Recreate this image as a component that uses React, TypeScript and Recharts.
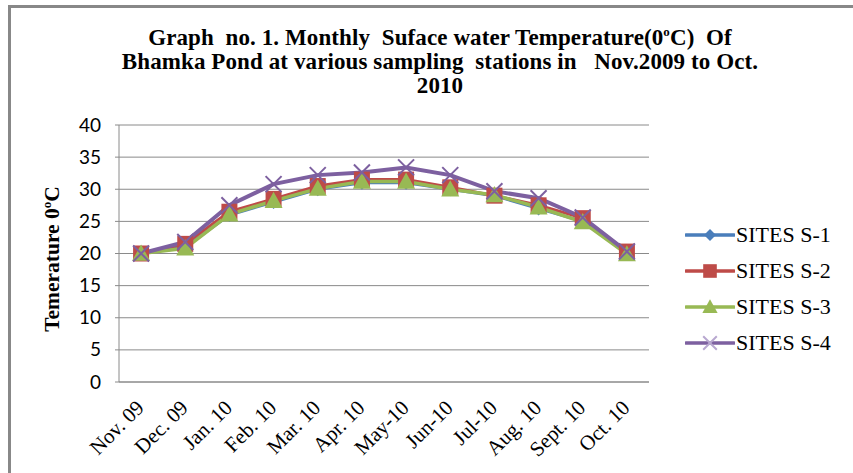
import React from "react";
import { LineChart, Line, XAxis, YAxis, CartesianGrid } from "recharts";

const months = ["Nov. 09", "Dec. 09", "Jan. 10", "Feb. 10", "Mar. 10", "Apr. 10", "May-10", "Jun-10", "Jul-10", "Aug. 10", "Sept. 10", "Oct. 10"];
const s1 = [20, 21, 26, 28, 30, 31, 31, 30, 29, 27, 25, 20];
const s2 = [20, 21.5, 26.5, 28.5, 30.5, 31.5, 31.5, 30.3, 29, 27.5, 25.5, 20.3];
const s3 = [20, 20.8, 26.1, 28.2, 30.1, 31.2, 31.2, 30, 29.1, 27.2, 24.9, 19.9];
const s4 = [20, 21.8, 27.5, 30.8, 32.2, 32.6, 33.4, 32.2, 29.7, 28.6, 25.6, 20.3];
const yTicks = [0, 5, 10, 15, 20, 25, 30, 35, 40];

const seriesNames = ["SITES S-1", "SITES S-2", "SITES S-3", "SITES S-4"];
const colors = ["#4A7EBB", "#BE4B48", "#98B954", "#7D60A0"];

const data = months.map((m, i) => ({ m, s1: s1[i], s2: s2[i], s3: s3[i], s4: s4[i] }));

function Marker({ kind, cx, cy, color, small }: { kind: number; cx: number; cy: number; color: string; small?: boolean }) {
  if (cx == null || cy == null) return null;
  const k = small ? 0.85 : 1;
  if (kind === 0) {
    const r = 7 * k;
    return <path d={`M${cx},${cy - r}L${cx + r},${cy}L${cx},${cy + r}L${cx - r},${cy}Z`} fill={color} />;
  }
  if (kind === 1) {
    const r = 8 * k;
    return <rect x={cx - r} y={cy - r} width={2 * r} height={2 * r} fill={color} />;
  }
  if (kind === 2) {
    const r = 9 * k;
    return <path d={`M${cx},${cy - r}L${cx + r},${cy + r * 0.8}L${cx - r},${cy + r * 0.8}Z`} fill={color} />;
  }
  const r = 8 * k;
  return (
    <path d={`M${cx - r},${cy - r}L${cx + r},${cy + r}M${cx + r},${cy - r}L${cx - r},${cy + r}`} stroke={color} strokeWidth={2} fill="none" />
  );
}

const makeDot = (kind: number) => (props: any) => (
  <Marker key={`${kind}-${props.index}`} kind={kind} cx={props.cx} cy={props.cy} color={colors[kind]} />
);

function XTick(props: any) {
  const { x, y, payload } = props;
  const tx = x + 4;
  const ty = y + 19;
  return (
    <text x={tx} y={ty} textAnchor="end" fontFamily="'Liberation Serif', serif" fontSize={21} fill="#000" transform={`rotate(-45, ${tx}, ${ty})`}>
      {payload.value}
    </text>
  );
}

function YTick(props: any) {
  const { y, payload } = props;
  return (
    <text x={101} y={y + 6.5} textAnchor="end" fontFamily="Lato, sans-serif" fontSize={19} fill="#000">
      {payload.value}
    </text>
  );
}

export default function App() {
  return (
    <div style={{ position: "absolute", left: 0, top: 0, width: 853, height: 473, background: "#fff", overflow: "hidden" }}>
      <div style={{ position: "absolute", left: 8, top: 5, width: 900, height: 500, borderLeft: "3px solid #888", borderTop: "3px solid #888" }} />
      <div
        style={{
          position: "absolute",
          left: 0,
          width: 880,
          top: 26,
          textAlign: "center",
          fontFamily: "'Liberation Serif', serif",
          fontWeight: "bold",
          fontSize: 23,
          lineHeight: "24px",
          letterSpacing: 0.1,
          color: "#000",
        }}
      >
        <div>Graph&nbsp; no. 1. Monthly&nbsp; Suface water Temperature(0<sup style={{ fontSize: 13, lineHeight: 0 }}>o</sup>C)&nbsp; Of</div>
        <div>Bhamka Pond at various sampling&nbsp; stations in&nbsp;&nbsp; Nov.2009 to Oct.</div>
        <div>2010</div>
      </div>
      <svg width={853} height={473} style={{ position: "absolute", left: 0, top: 0 }}>
        <text
          transform="translate(59, 259) rotate(-90)"
          textAnchor="middle"
          fontFamily="'Liberation Serif', serif"
          fontWeight="bold"
          fontSize={21.5}
          fill="#000"
        >
          Temerature 0<tspan fontSize={13} dy={-8}>o</tspan><tspan dy={8}>C</tspan>
        </text>
      </svg>
      <div style={{ position: "absolute", left: 0, top: 0 }}>
        <LineChart width={853} height={473} data={data} margin={{ top: 125, right: 204, bottom: 61, left: 0 }}>
          <CartesianGrid vertical={false} stroke="#8a8a8a" strokeWidth={1} />
          <XAxis dataKey="m" scale="band" height={30} stroke="#8a8a8a" tickLine={false} tick={<XTick />} interval={0} />
          <YAxis
            domain={[0, 40]}
            ticks={yTicks}
            width={119}
            stroke="#8a8a8a"
            tickSize={4}
            tick={<YTick />}
            interval={0}
          />
          <Line dataKey="s1" stroke={colors[0]} strokeWidth={3} dot={makeDot(0)} isAnimationActive={false} />
          <Line dataKey="s2" stroke={colors[1]} strokeWidth={3} dot={makeDot(1)} isAnimationActive={false} />
          <Line dataKey="s3" stroke={colors[2]} strokeWidth={3.5} dot={makeDot(2)} isAnimationActive={false} />
          <Line dataKey="s4" stroke={colors[3]} strokeWidth={4} dot={makeDot(3)} isAnimationActive={false} />
        </LineChart>
      </div>
      <div style={{ position: "absolute", left: 685, top: 217 }}>
        {seriesNames.map((n, i) => (
          <div key={n} style={{ display: "flex", alignItems: "center", height: 36 }}>
            <svg width={50} height={20}>
              <line x1={1} y1={10} x2={49} y2={10} stroke={colors[i]} strokeWidth={3.5} strokeLinecap="round" />
              <Marker kind={i} cx={25} cy={10} color={i === 3 ? "#B8A8D0" : colors[i]} small />
            </svg>
            <span style={{ fontFamily: "'Liberation Serif', serif", fontSize: 22, color: "#000", marginLeft: 1, whiteSpace: "nowrap" }}>{n}</span>
          </div>
        ))}
      </div>
    </div>
  );
}
